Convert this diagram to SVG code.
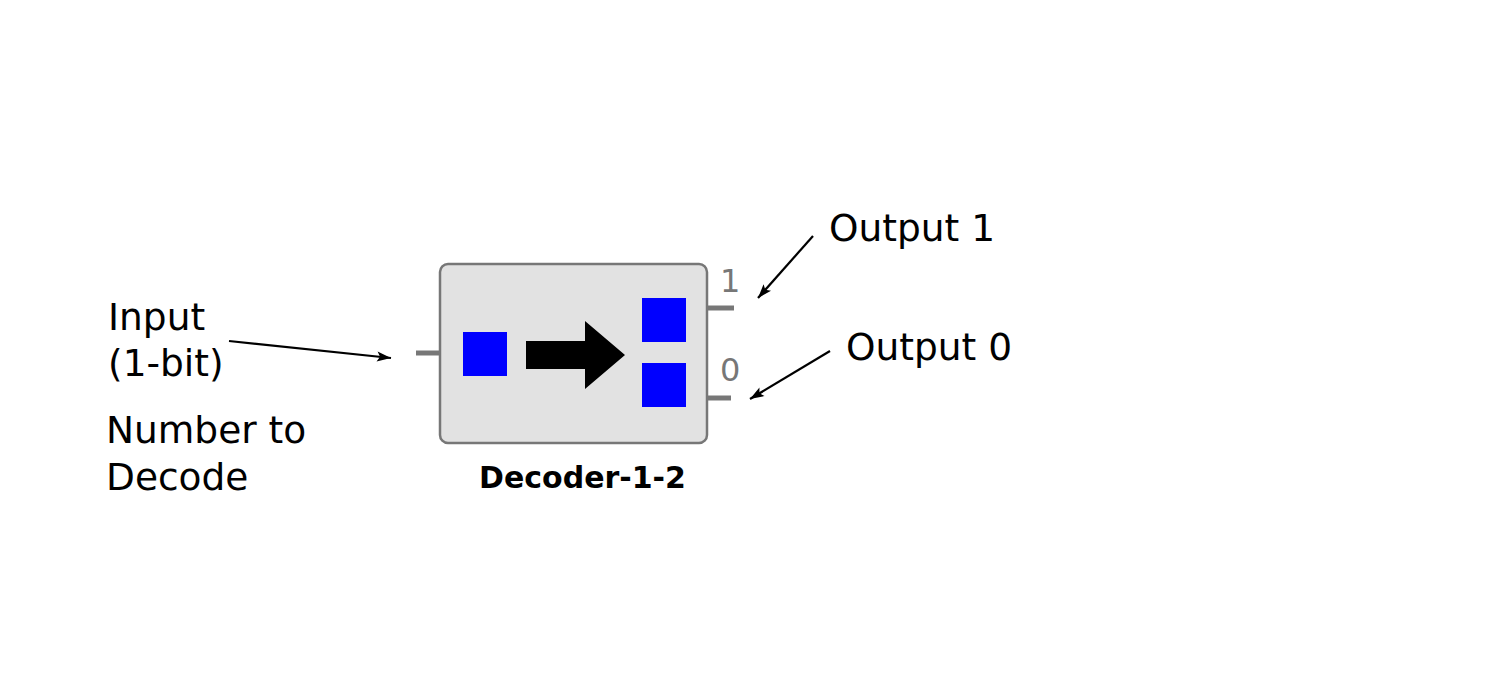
<svg xmlns="http://www.w3.org/2000/svg" width="1503" height="680" viewBox="0 0 1503 680">
<style>
.lbl{font-family:"DejaVu Sans",sans-serif;font-size:37.5px;fill:#000}
.pin{stroke:#777;stroke-width:5;fill:none}
.pnum{font-family:"DejaVu Sans",sans-serif;font-size:32px;fill:#777}
.sq{fill:#0000ff}
.conn{stroke:#000;stroke-width:2.2;fill:none;marker-end:url(#ah)}
</style>
<defs>
<marker id="ah" viewBox="-15 -6 16 12" refX="0" refY="0" markerWidth="16" markerHeight="12" markerUnits="userSpaceOnUse" orient="auto" overflow="visible">
<path d="M0,0 L-14,-5 L-11,0 L-14,5 Z" fill="#000"/>
</marker>
</defs>
<rect width="1503" height="680" fill="#fff"/>
<g id="decoder">
<line class="pin" x1="416" y1="353" x2="440" y2="353"/>
<line class="pin" x1="707" y1="308" x2="734" y2="308"/>
<line class="pin" x1="707" y1="398" x2="731" y2="398"/>
<rect x="440" y="264" width="267" height="179" rx="8" fill="#e2e2e2" stroke="#777" stroke-width="2.5"/>
<rect class="sq" x="463" y="332" width="44" height="44"/>
<rect class="sq" x="642" y="298" width="44" height="44"/>
<rect class="sq" x="642" y="363" width="44" height="44"/>
<polygon points="526,341 585,341 585,321 625,355 585,389 585,369 526,369" fill="#000"/>
<text class="pnum" x="720" y="292">1</text>
<text class="pnum" x="720" y="381">0</text>
<text x="582.5" y="488" text-anchor="middle" font-family="DejaVu Sans, sans-serif" font-weight="bold" font-size="30">Decoder-1-2</text>
</g>
<g id="label-input">
<text class="lbl" x="108" y="330">Input</text>
<text class="lbl" x="108" y="376">(1-bit)</text>
</g>
<g id="label-number">
<text class="lbl" x="106" y="443">Number to</text>
<text class="lbl" x="106" y="490">Decode</text>
</g>
<g id="label-out1">
<text class="lbl" x="829" y="241">Output 1</text>
</g>
<g id="label-out0">
<text class="lbl" x="846" y="360">Output 0</text>
</g>
<g id="connectors">
<line class="conn" x1="229" y1="341" x2="391" y2="358"/>
<line class="conn" x1="813" y1="236" x2="758" y2="298"/>
<line class="conn" x1="830" y1="351" x2="750" y2="399"/>
</g>
</svg>
